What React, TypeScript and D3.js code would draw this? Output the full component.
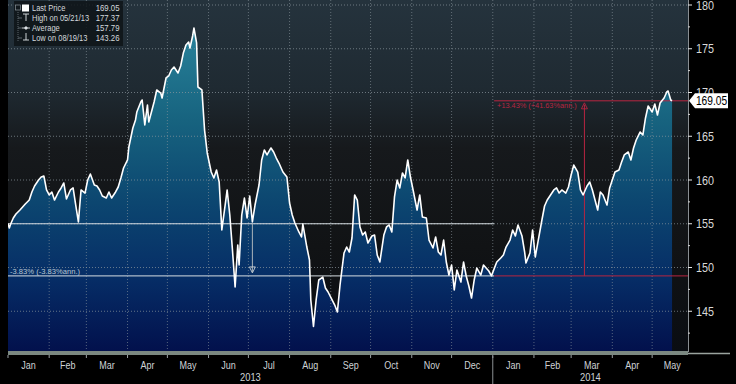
import React from "react";
import * as d3 from "d3";

const W = 736;
const H = 384;

// Price series (date, price)
const priceSeries: [string, number][] = [
  ["2013-01-01", 155.0], ["2013-01-02", 154.51], ["2013-01-03", 154.97], ["2013-01-05", 155.66],
  ["2013-01-07", 156.11], ["2013-01-10", 156.57], ["2013-01-12", 156.91], ["2013-01-14", 157.26],
  ["2013-01-17", 157.71], ["2013-01-19", 158.63], ["2013-01-21", 159.31], ["2013-01-24", 160.0],
  ["2013-01-26", 160.34], ["2013-01-28", 160.46], ["2013-01-30", 158.86], ["2013-02-01", 158.29],
  ["2013-02-03", 158.63], ["2013-02-05", 157.71], ["2013-02-08", 158.63], ["2013-02-10", 159.09],
  ["2013-02-12", 159.66], ["2013-02-14", 157.83], ["2013-02-17", 158.86], ["2013-02-19", 159.09],
  ["2013-02-21", 157.14], ["2013-02-23", 155.2], ["2013-02-25", 158.86], ["2013-02-28", 158.51],
  ["2013-03-02", 160.0], ["2013-03-04", 160.69], ["2013-03-07", 159.43], ["2013-03-09", 159.31],
  ["2013-03-11", 158.86], ["2013-03-13", 158.17], ["2013-03-16", 157.94], ["2013-03-18", 158.63],
  ["2013-03-20", 157.94], ["2013-03-23", 158.63], ["2013-03-25", 159.2], ["2013-03-27", 160.23],
  ["2013-03-29", 161.37], ["2013-04-01", 162.29], ["2013-04-02", 163.77], ["2013-04-05", 165.94],
  ["2013-04-07", 166.86], ["2013-04-08", 167.77], ["2013-04-11", 168.91], ["2013-04-12", 169.14],
  ["2013-04-14", 166.29], ["2013-04-16", 168.57], ["2013-04-17", 166.63], ["2013-04-20", 168.34],
  ["2013-04-21", 168.91], ["2013-04-23", 170.29], ["2013-04-26", 169.94], ["2013-04-27", 169.37],
  ["2013-04-30", 171.66], ["2013-05-02", 171.89], ["2013-05-04", 172.57], ["2013-05-06", 172.91],
  ["2013-05-09", 172.23], ["2013-05-11", 173.03], ["2013-05-13", 174.51], ["2013-05-15", 175.43],
  ["2013-05-17", 175.77], ["2013-05-18", 175.09], ["2013-05-20", 176.46], ["2013-05-21", 177.37],
  ["2013-05-23", 175.66], ["2013-05-24", 170.63], ["2013-05-27", 170.29], ["2013-05-29", 165.71],
  ["2013-05-31", 163.09], ["2013-06-03", 160.91], ["2013-06-05", 160.23], ["2013-06-07", 161.14],
  ["2013-06-09", 159.77], ["2013-06-11", 154.29], ["2013-06-14", 157.71], ["2013-06-15", 158.86],
  ["2013-06-17", 156.0], ["2013-06-19", 152.0], ["2013-06-21", 147.77], ["2013-06-23", 152.57],
  ["2013-06-24", 150.29], ["2013-06-26", 156.0], ["2013-06-28", 157.94], ["2013-06-30", 155.66],
  ["2013-07-02", 158.17], ["2013-07-04", 155.2], ["2013-07-06", 157.14], ["2013-07-09", 159.43],
  ["2013-07-11", 162.29], ["2013-07-13", 163.43], ["2013-07-15", 162.86], ["2013-07-18", 163.66],
  ["2013-07-20", 163.2], ["2013-07-22", 162.51], ["2013-07-24", 161.94], ["2013-07-27", 160.91],
  ["2013-07-30", 160.34], ["2013-08-01", 157.37], ["2013-08-03", 156.0], ["2013-08-05", 155.09],
  ["2013-08-08", 154.06], ["2013-08-10", 153.49], ["2013-08-11", 154.97], ["2013-08-14", 152.34],
  ["2013-08-16", 150.86], ["2013-08-17", 146.29], ["2013-08-19", 143.26], ["2013-08-21", 146.29],
  ["2013-08-23", 148.57], ["2013-08-26", 148.91], ["2013-08-28", 147.66], ["2013-08-30", 147.2],
  ["2013-09-02", 146.29], ["2013-09-04", 145.71], ["2013-09-06", 144.91], ["2013-09-08", 148.0],
  ["2013-09-11", 151.66], ["2013-09-13", 152.34], ["2013-09-15", 151.77], ["2013-09-17", 153.37],
  ["2013-09-19", 158.29], ["2013-09-21", 157.71], ["2013-09-23", 154.63], ["2013-09-25", 153.71],
  ["2013-09-27", 154.06], ["2013-09-29", 152.8], ["2013-10-02", 153.6], ["2013-10-04", 153.71],
  ["2013-10-06", 151.43], ["2013-10-08", 150.63], ["2013-10-11", 153.71], ["2013-10-13", 154.63],
  ["2013-10-15", 154.86], ["2013-10-17", 154.06], ["2013-10-19", 158.06], ["2013-10-21", 160.0],
  ["2013-10-23", 159.09], ["2013-10-25", 160.8], ["2013-10-27", 160.23], ["2013-10-29", 162.29],
  ["2013-10-31", 160.34], ["2013-11-02", 158.86], ["2013-11-05", 156.57], ["2013-11-07", 158.29],
  ["2013-11-09", 155.77], ["2013-11-12", 155.66], ["2013-11-14", 153.14], ["2013-11-17", 152.23],
  ["2013-11-19", 153.49], ["2013-11-21", 151.77], ["2013-11-23", 151.43], ["2013-11-25", 153.14],
  ["2013-11-27", 150.63], ["2013-11-29", 149.14], ["2013-12-01", 150.29], ["2013-12-03", 147.43],
  ["2013-12-05", 149.71], ["2013-12-08", 148.34], ["2013-12-10", 150.63], ["2013-12-12", 149.03],
  ["2013-12-14", 147.89], ["2013-12-16", 146.51], ["2013-12-18", 148.57], ["2013-12-20", 149.94],
  ["2013-12-23", 149.14], ["2013-12-25", 150.29], ["2013-12-27", 149.94], ["2013-12-29", 149.6],
  ["2013-12-31", 149.04], ["2014-01-04", 150.63], ["2014-01-07", 151.09], ["2014-01-09", 151.43],
  ["2014-01-11", 152.34], ["2014-01-14", 153.14], ["2014-01-16", 154.29], ["2014-01-18", 153.6],
  ["2014-01-20", 154.86], ["2014-01-23", 153.6], ["2014-01-25", 151.77], ["2014-01-26", 150.51],
  ["2014-01-29", 151.66], ["2014-01-31", 154.29], ["2014-02-02", 151.2], ["2014-02-04", 152.91],
  ["2014-02-07", 155.43], ["2014-02-09", 157.03], ["2014-02-11", 157.71], ["2014-02-13", 158.17],
  ["2014-02-16", 158.86], ["2014-02-18", 159.09], ["2014-02-20", 158.51], ["2014-02-22", 158.86],
  ["2014-02-25", 158.51], ["2014-02-27", 159.2], ["2014-03-01", 160.57], ["2014-03-03", 161.71],
  ["2014-03-06", 160.91], ["2014-03-08", 158.86], ["2014-03-10", 158.29], ["2014-03-13", 159.31],
  ["2014-03-15", 159.77], ["2014-03-17", 158.86], ["2014-03-19", 157.71], ["2014-03-21", 156.57],
  ["2014-03-23", 158.63], ["2014-03-25", 158.29], ["2014-03-28", 157.14], ["2014-03-30", 159.09],
  ["2014-04-01", 160.0], ["2014-04-03", 160.91], ["2014-04-06", 161.14], ["2014-04-08", 162.06],
  ["2014-04-10", 162.86], ["2014-04-13", 163.2], ["2014-04-15", 162.29], ["2014-04-17", 163.66],
  ["2014-04-19", 164.57], ["2014-04-22", 165.49], ["2014-04-24", 165.14], ["2014-04-26", 167.09],
  ["2014-04-28", 168.46], ["2014-05-01", 167.77], ["2014-05-03", 168.69], ["2014-05-05", 167.43],
  ["2014-05-07", 168.8], ["2014-05-10", 169.37], ["2014-05-12", 170.06], ["2014-05-13", 170.17],
  ["2014-05-15", 169.14], ["2014-05-16", 169.05],
];

const xDomain: [string, string] = ["2013-01-01", "2014-05-28"];
const yDomain: [number, number] = [140, 180];
const yTicks = [145, 150, 155, 160, 165, 170, 175, 180];
const yMinorTicks = [142.5, 147.5, 152.5, 157.5, 162.5, 167.5, 172.5, 177.5];
const monthStarts = [
  "2013-01-01", "2013-02-01", "2013-03-01", "2013-04-01", "2013-05-01", "2013-06-01",
  "2013-07-01", "2013-08-01", "2013-09-01", "2013-10-01", "2013-11-01", "2013-12-01",
  "2014-01-01", "2014-02-01", "2014-03-01", "2014-04-01", "2014-05-01",
];
const monthLabels = [
  "Jan", "Feb", "Mar", "Apr", "May", "Jun", "Jul", "Aug", "Sep", "Oct", "Nov", "Dec",
  "Jan", "Feb", "Mar", "Apr", "May",
];
const yearLabels = ["2013", "2014"];
const yearRanges: [string, string][] = [["2013-01-01", "2014-01-01"], ["2014-01-01", "2014-05-28"]];

const legendLabels = ["Last Price", "High on 05/21/13", "Average", "Low on 08/19/13"];
const legendValues = ["169.05", "177.37", "157.79", "143.26"];
const lastPrice = 169.05;

const period1 = { start: "2013-01-01", end: "2014-01-02", from: 155.0, to: 149.04, marker: "2013-07-04", label: "-3.83% (-3.83%ann.)" };
const period2 = { start: "2014-01-02", end: "2014-05-28", from: 149.04, to: 169.05, marker: "2014-03-11", label: "+13.43% (+41.63%ann.)" };

const FONT = "'Liberation Sans','Arial',sans-serif";

function CText(props: {
  x: number; y: number; sx: number; size: number; fill: string;
  anchor?: "start" | "middle" | "end"; children: React.ReactNode;
}) {
  const { x, y, sx, size, fill, anchor, children } = props;
  return (
    <text transform={`translate(${x},${y}) scale(${sx},1)`} x={0} y={0}
      textAnchor={anchor || "start"} fontFamily={FONT} fontSize={size} fill={fill}>
      {children}
    </text>
  );
}

export default function App() {
  const parse = d3.timeParse("%Y-%m-%d");
  const P = (s: string) => parse(s) as Date;
  const data = priceSeries.map(([d, v]) => ({ date: P(d), value: v }));

  const plotLeft = 8, plotRight = 688, plotTop = 0, plotBottom = 352;
  const x = d3.scaleTime().domain([P(xDomain[0]), P(xDomain[1])]).range([plotLeft, plotRight]);
  const y = d3.scaleLinear().domain(yDomain).range([355, 5]);

  const area = d3.area<{ date: Date; value: number }>()
    .x((d) => x(d.date)).y0(plotBottom).y1((d) => y(d.value));
  const line = d3.line<{ date: Date; value: number }>()
    .x((d) => x(d.date)).y((d) => y(d.value));

  const gridColor = "#8d989f";
  const red = "#b82541";
  const yl = y(lastPrice);

  return (
    <svg width={W} height={H} style={{ position: "fixed", left: 0, top: 0, display: "block", background: "#000" }}>
      <defs>
        <linearGradient id="bg" gradientUnits="userSpaceOnUse" x1="0" y1={plotTop} x2="0" y2={plotBottom}>
          <stop offset="0" stopColor="#25333d" />
          <stop offset="0.25" stopColor="#1f2a32" />
          <stop offset="0.42" stopColor="#16191c" />
          <stop offset="0.7" stopColor="#111315" />
          <stop offset="1" stopColor="#0a0d12" />
        </linearGradient>
        <linearGradient id="fill" gradientUnits="userSpaceOnUse" x1="0" y1={20} x2="0" y2={plotBottom}>
          <stop offset="0" stopColor="#2a859d" />
          <stop offset="0.3" stopColor="#17637f" />
          <stop offset="0.55" stopColor="#0c4670" />
          <stop offset="0.78" stopColor="#062d66" />
          <stop offset="1" stopColor="#02104c" />
        </linearGradient>
        <clipPath id="plotclip">
          <rect x={plotLeft} y={plotTop} width={plotRight - plotLeft} height={plotBottom - plotTop} />
        </clipPath>
      </defs>

      <rect x={0} y={0} width={W} height={H} fill="#000" />
      <rect x={plotLeft} y={plotTop} width={plotRight - plotLeft} height={plotBottom - plotTop} fill="url(#bg)" />

      <g clipPath="url(#plotclip)">
        <path d={area(data) || ""} fill="url(#fill)" />
        {yTicks.map((t) => (
          <line key={"gy" + t} x1={plotLeft} x2={plotRight} y1={y(t)} y2={y(t)}
            stroke={gridColor} strokeWidth={1} strokeDasharray="1,2" opacity={0.7} />
        ))}
        {monthStarts.slice(1).map((m) => (
          <line key={"gx" + m} x1={x(P(m))} x2={x(P(m))} y1={plotTop} y2={plotBottom}
            stroke={gridColor} strokeWidth={1} strokeDasharray="1,2" opacity={0.6} />
        ))}

        {/* period 1 annotation */}
        <line x1={x(P(period1.start))} x2={x(P(period1.end))} y1={y(period1.from)} y2={y(period1.from)} stroke="#d6dde2" strokeWidth={1} />
        <line x1={x(P(period1.start))} x2={x(P(period1.end))} y1={y(period1.to)} y2={y(period1.to)} stroke="#d6dde2" strokeWidth={1} />
        <line x1={x(P(period1.marker))} x2={x(P(period1.marker))} y1={y(period1.from)} y2={y(period1.to) - 4} stroke="#aab4bb" strokeWidth={1} />
        <path d={`M${x(P(period1.marker)) - 3},${y(period1.to) - 9} L${x(P(period1.marker)) + 3},${y(period1.to) - 9} L${x(P(period1.marker))},${y(period1.to) - 3} Z`}
          fill="none" stroke="#c8d0d6" strokeWidth={0.9} />
        <CText x={plotLeft + 2} y={y(period1.to) - 2} sx={0.95} size={8} fill="#b8c6d2">{period1.label}</CText>

        {/* period 2 annotation */}
        <line x1={x(P(period2.start))} x2={x(P(period2.end))} y1={y(period2.to)} y2={y(period2.to)} stroke={red} strokeWidth={1} />
        <line x1={x(P(period2.start))} x2={x(P(period2.end))} y1={y(period2.from)} y2={y(period2.from)} stroke={red} strokeWidth={1} />
        <line x1={x(P(period2.marker))} x2={x(P(period2.marker))} y1={y(period2.to) + 4} y2={y(period2.from)} stroke={red} strokeWidth={1} />
        <path d={`M${x(P(period2.marker)) - 3},${y(period2.to) + 8} L${x(P(period2.marker)) + 3},${y(period2.to) + 8} L${x(P(period2.marker))},${y(period2.to) + 2} Z`}
          fill="none" stroke={red} strokeWidth={0.9} />
        <CText x={x(P(period2.start)) + 3} y={y(period2.to) + 7.5} sx={0.92} size={8} fill={red}>{period2.label}</CText>

        <path d={line(data) || ""} fill="none" stroke="#ffffff" strokeWidth={1.6} strokeLinejoin="round" />
      </g>

      {/* legend */}
      <g>
        <rect x={14} y={1} width={109} height={45} fill="#0e1418" opacity={0.85} />
        <line x1={18} x2={18} y1={12} y2={41} stroke="#6f7a82" strokeWidth={0.8} strokeDasharray="1,1" />
        <rect x={15.5} y={5} width={5} height={5} fill="none" stroke="#8a959c" strokeWidth={0.7} />
        <rect x={22} y={4.5} width={7} height={7} fill="#ffffff" />
        {legendLabels.map((lab, i) => {
          const cy = 11 + i * 10;
          return (
            <g key={lab}>
              {i > 0 && <line x1={18} x2={22} y1={cy - 3} y2={cy - 3} stroke="#6f7a82" strokeWidth={0.8} />}
              {i === 1 && (<g stroke="#e0e4e8" strokeWidth={0.9}><line x1={23} x2={29} y1={cy - 7} y2={cy - 7} /><line x1={26} x2={26} y1={cy - 7} y2={cy} /></g>)}
              {i === 2 && (<g stroke="#e0e4e8" strokeWidth={0.9}><line x1={22} x2={30} y1={cy - 3} y2={cy - 3} /><circle cx={26} cy={cy - 3} r={1.2} fill="#e0e4e8" /></g>)}
              {i === 3 && (<g stroke="#e0e4e8" strokeWidth={0.9}><line x1={26} x2={26} y1={cy - 8} y2={cy - 1} /><line x1={23} x2={29} y1={cy - 1} y2={cy - 1} /></g>)}
              <CText x={32} y={cy} sx={0.79} size={9.5} fill="#d4d8dc">{lab}</CText>
              <CText x={119.5} y={cy} sx={0.82} size={9.5} fill="#d4d8dc" anchor="end">{legendValues[i]}</CText>
            </g>
          );
        })}
      </g>

      {/* right axis */}
      <line x1={plotRight + 0.5} x2={plotRight + 0.5} y1={plotTop} y2={plotBottom} stroke="#8a8f93" strokeWidth={1} />
      {yMinorTicks.map((t) => (
        <line key={"mt" + t} x1={plotRight} x2={plotRight + 2} y1={y(t)} y2={y(t)} stroke="#d8d8d8" strokeWidth={1} />
      ))}
      {yTicks.map((t) => (
        <g key={"yt" + t}>
          <line x1={plotRight} x2={plotRight + 4} y1={y(t)} y2={y(t)} stroke="#e8e8e8" strokeWidth={1} />
          <CText x={plotRight + 8} y={y(t) + 4.5} sx={0.9} size={12} fill="#d8d8d8">{t}</CText>
        </g>
      ))}
      <path d={`M${plotRight + 1},${yl} L${plotRight + 7},${yl - 7.5} L${plotRight + 40},${yl - 7.5} L${plotRight + 40},${yl + 7.5} L${plotRight + 7},${yl + 7.5} Z`} fill="#ffffff" />
      <CText x={plotRight + 23.5} y={yl + 4.3} sx={0.85} size={12} fill="#000" anchor="middle">{lastPrice.toFixed(2)}</CText>

      {/* bottom bar & axis */}
      <rect x={plotLeft} y={plotBottom - 1} width={plotRight - plotLeft} height={4} fill="#7b8881" />
      <line x1={plotRight} x2={730} y1={plotBottom + 1.5} y2={plotBottom + 1.5} stroke="#9aa39e" strokeWidth={1.5} />
      {monthStarts.map((m) => (
        <line key={"bt" + m} x1={x(P(m))} x2={x(P(m))} y1={plotBottom + 3} y2={plotBottom + 6} stroke="#9aa0a4" strokeWidth={1} />
      ))}
      {monthStarts.map((m, i) => {
        const start = P(m);
        const end = i + 1 < monthStarts.length ? P(monthStarts[i + 1]) : P(xDomain[1]);
        const cx = i + 1 < monthStarts.length ? (x(start) + x(end)) / 2 : x(start) + 20;
        return (
          <CText key={"ml" + i} x={cx} y={369} sx={0.82} size={11} fill="#cfd3d6" anchor="middle">{monthLabels[i]}</CText>
        );
      })}
      <line x1={x(P("2014-01-01"))} x2={x(P("2014-01-01"))} y1={plotBottom + 4} y2={H} stroke="#8a8f93" strokeWidth={1} />
      {yearLabels.map((yr, i) => (
        <CText key={yr} x={(x(P(yearRanges[i][0])) + x(P(yearRanges[i][1]))) / 2} y={381} sx={0.85} size={11}
          fill="#cfd3d6" anchor="middle">{yr}</CText>
      ))}
    </svg>
  );
}
